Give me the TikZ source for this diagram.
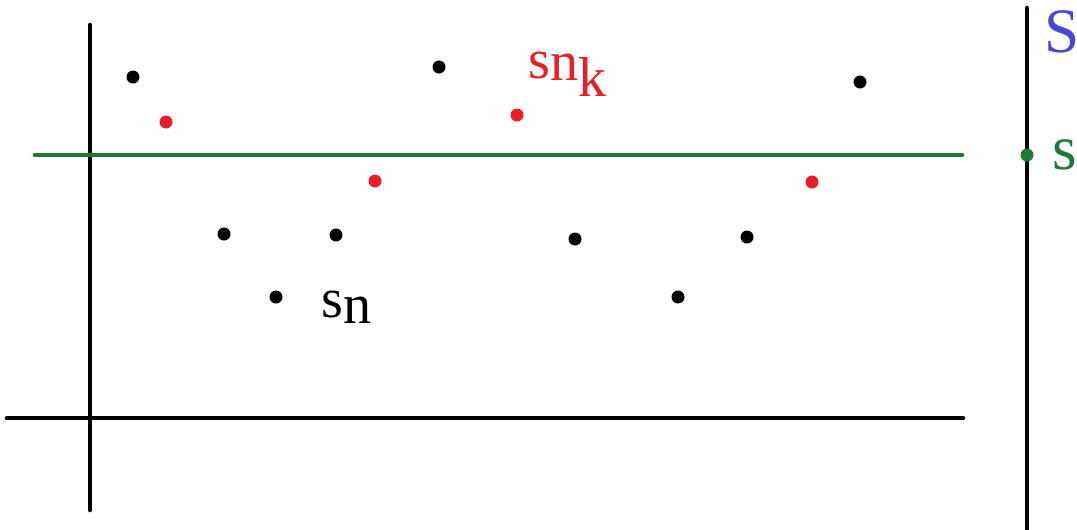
\documentclass[tikz,border=0pt]{standalone}
\usepackage{fontspec}
\setmainfont{Liberation Serif}
\usepackage{tikz}
\definecolor{limgreen}{RGB}{30,122,52}
\definecolor{subred}{RGB}{232,30,40}
\definecolor{supblue}{RGB}{72,72,212}

\begin{document}
\begin{tikzpicture}[
  x=0.02cm, y=-0.02cm,
  axis/.style={line width=2.6pt, draw=black, line cap=round},
  seqdot/.style={circle, fill=black, inner sep=0pt, minimum size=0.26cm},
  subdot/.style={seqdot, fill=subred},
  lbl/.style={font=\fontsize{32}{38}\selectfont, inner sep=0pt, anchor=base west}
]
\useasboundingbox (0,0) rectangle (1077,529);

% axes and the limit line
\draw[axis] (90,25) -- (90,510);
\draw[axis] (7,418) -- (963,418);
\draw[axis, draw=limgreen] (35,155) -- (962,155);
\draw[axis] (1027,8) -- (1027,535);

% the sequence
\node[seqdot] (a1) at (133,77) {};
\node[seqdot] (a2) at (224,234) {};
\node[seqdot] (a3) at (276,297) {};
\node[seqdot] (a4) at (336,235) {};
\node[seqdot] (a5) at (439,67) {};
\node[seqdot] (a6) at (575,239) {};
\node[seqdot] (a7) at (678,297) {};
\node[seqdot] (a8) at (747,237) {};
\node[seqdot] (a9) at (860,82) {};

% the subsequence
\node[subdot] (b1) at (166,122) {};
\node[subdot] (b2) at (375,181) {};
\node[subdot] (b3) at (517,115) {};
\node[subdot] (b4) at (812,182) {};

\node[seqdot, fill=limgreen] (lim) at (1027,155) {};

% labels
\node[lbl] (sn) at (321,317) {s\raisebox{-0.25ex}{n}};
\node[lbl, text=subred] (snk) at (528,78) {s\raisebox{-0.1ex}{n}\raisebox{-0.7ex}{k}};
\node[lbl, text=limgreen, font=\fontsize{36}{40}\selectfont] (slim) at (1052,169) {s};
\node[lbl, text=supblue, font=\fontsize{36}{40}\selectfont] (sset) at (1044,52) {S};

\end{tikzpicture}
\end{document}
